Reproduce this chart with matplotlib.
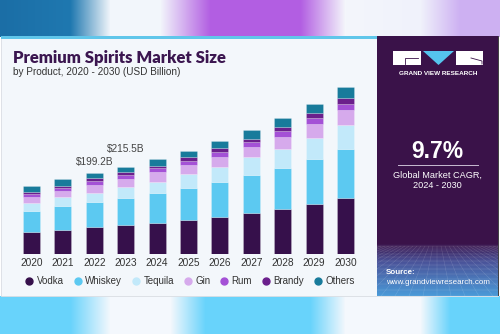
import numpy as np
import matplotlib
matplotlib.use("Agg")
import matplotlib.pyplot as plt
from matplotlib.patches import Rectangle, Polygon
from matplotlib.lines import Line2D
from matplotlib.colors import to_rgb

years = ["2020", "2021", "2022", "2023", "2024", "2025", "2026", "2027", "2028", "2029", "2030"]
products = ["Vodka", "Whiskey", "Tequila", "Gin", "Rum", "Brandy", "Others"]
vodka   = [54.3, 59.3, 66.7, 71.6, 76.6, 84.0, 91.4, 101.3, 111.2, 123.5, 138.3]
whiskey = [51.9, 59.3, 61.8, 66.7, 74.1, 79.0, 86.5, 93.9, 101.3, 111.2, 121.0]
tequila = [19.8, 22.2, 22.2, 27.2, 27.2, 34.6, 37.1, 44.5, 46.9, 51.9, 59.3]
gin     = [14.8, 14.8, 19.8, 19.8, 24.7, 22.2, 24.7, 24.7, 29.6, 34.6, 37.1]
rum     = [7.4, 7.4, 8.6, 9.9, 9.9, 9.9, 12.4, 12.4, 14.8, 13.6, 14.8]
brandy  = [4.9, 4.9, 7.4, 7.4, 4.9, 9.9, 9.9, 7.4, 9.9, 13.6, 14.8]
others  = [14.8, 17.3, 12.7, 12.4, 17.3, 14.8, 17.3, 22.2, 22.2, 22.2, 27.2]
series = [vodka, whiskey, tequila, gin, rum, brandy, others]
colors = ["#36104b", "#5cc9f1", "#c2e9fa", "#d6aaec", "#a451d6", "#6b1f8c", "#187b9b"]
annotations = {"2022": "$199.2B", "2023": "$215.5B"}
annot_offsets = {"2022": 4.5, "2023": 9.5}

W, H = 500, 334
fig = plt.figure(figsize=(5, 3.34), dpi=100)

# ---- background decoration (pixel coords) ----
bg = fig.add_axes([0, 0, 1, 1])
bg.set_xlim(0, W); bg.set_ylim(H, 0); bg.axis("off")

def band(stops, y0, y1):
    xs = np.arange(W)
    px = np.array([s[0] for s in stops])
    cols = np.array([to_rgb(s[1]) for s in stops])
    img = np.stack([np.interp(xs, px, cols[:, i]) for i in range(3)], axis=-1)
    img = np.repeat(img[None, :, :], 2, axis=0)
    bg.imshow(img, extent=[0, W, y1, y0], aspect="auto", zorder=0)

band([(0, "#1b6ea6"), (70, "#1f78b0"), (110, "#f2f6fb"), (160, "#f2f6fb"),
      (210, "#b25ee2"), (300, "#b25ee2"), (345, "#f4f6fb"), (420, "#f0f2fb"),
      (460, "#cdb0f2"), (500, "#cdb0f2")], 0, 37)
band([(0, "#68d3fb"), (70, "#68d3fb"), (110, "#f4f8fd"), (170, "#f4f8fd"),
      (205, "#68d3fb"), (310, "#68d3fb"), (345, "#f4f8fd"), (420, "#f4f8fd"),
      (450, "#68d3fb"), (500, "#68d3fb")], 296, 334)

bg.add_patch(Rectangle((1, 37), 497, 259, facecolor="#f3f7fb", edgecolor="#d9dde3", lw=0.6, zorder=1))
bg.add_patch(Rectangle((1, 36), 377, 2.5, facecolor="#60c6ea", lw=0, zorder=2))
bg.add_patch(Rectangle((377, 36), 121, 260, facecolor="#3a1249", lw=0, zorder=2))
# lower gradient of the side panel
t = np.linspace(0, 1, 80)
stops_t = [0, 0.35, 1]
stops_c = np.array([to_rgb("#3a1249"), to_rgb("#4a5399"), to_rgb("#4a9ad8")])
gimg = np.stack([np.interp(t, stops_t, stops_c[:, i]) for i in range(3)], axis=-1)[:, None, :]
gimg = np.repeat(gimg, 2, axis=1)
bg.imshow(gimg, extent=[377, 498, 296, 243], aspect="auto", zorder=3)
# perspective grid
hy = 246
for k in range(14):
    yy = hy + (296 - hy) * (k / 13) ** 1.6
    bg.plot([377, 498], [yy, yy], color="white", lw=0.3, alpha=0.22, zorder=4)
vx = 437
for k in range(-20, 21):
    xb = vx + k * 14
    bg.plot([vx + k * 4, xb], [hy, 296], color="white", lw=0.3, alpha=0.2, zorder=4)
bg.set_xlim(0, W); bg.set_ylim(H, 0)
bg.add_patch(Rectangle((498, 36), 1.2, 260, facecolor="#444444", lw=0, zorder=5))

# logo
bg.add_patch(Rectangle((393, 51), 28, 14, facecolor="white", lw=0, zorder=5))
bg.add_patch(Polygon([(423, 51), (454, 51), (438.5, 65)], closed=True, facecolor="#55c4ee", lw=0, zorder=5))
bg.add_patch(Rectangle((456, 51), 27, 14, facecolor="white", lw=0, zorder=5))
bg.plot([405, 405, 418], [64, 58, 58], color="#3a1249", lw=0.6, zorder=6)
bg.plot([471, 482, 482], [58, 61, 64], color="#3a1249", lw=0.6, zorder=6)
bg.text(438, 73.5, "GRAND VIEW RESEARCH", color="white", fontsize=4.6, ha="center", va="center",
        family="Liberation Sans", weight="bold", zorder=6)

bg.text(437, 151, "9.7%", color="white", fontsize=16.5, ha="center", va="center",
        family="Liberation Sans", weight="bold", zorder=6)
bg.plot([398, 478], [165, 165], color="#c9bcd3", lw=0.7, zorder=6)
bg.text(437, 175, "Global Market CAGR,", color="white", fontsize=6.6, ha="center", va="center",
        family="Liberation Sans", zorder=6)
bg.text(437, 186, "2024 - 2030", color="white", fontsize=6.6, ha="center", va="center",
        family="Liberation Sans", zorder=6)
bg.text(386, 272, "Source:", color="white", fontsize=5.8, ha="left", va="center",
        family="Liberation Sans", weight="bold", zorder=6)
bg.text(386, 282, "www.grandviewresearch.com", color="white", fontsize=5.8, ha="left", va="center",
        family="Liberation Sans", zorder=6)

bg.text(13, 58, "Premium Spirits Market Size", color="#3b1650", fontsize=12.0, ha="left", va="center",
        family="Lato", weight="heavy", zorder=6)
bg.text(13, 72, "by Product, 2020 - 2030 (USD Billion)", color="#333333", fontsize=7.2, ha="left",
        va="center", family="Liberation Sans", zorder=6)

# ---- chart axes ----
left_px, right_px, bot_px, top_px = 15.8, 361.2, 254, 80
ax = fig.add_axes([left_px / W, 1 - bot_px / H, (right_px - left_px) / W, (bot_px - top_px) / H])
ax.patch.set_alpha(0)
x = np.arange(len(years))
bottom = np.zeros(len(years))
for vals, col, name in zip(series, colors, products):
    ax.bar(x, vals, 0.54, bottom=bottom, color=col, edgecolor=(1, 1, 1, 0.35), linewidth=0.4, label=name)
    bottom += np.array(vals)
totals = bottom
ax.set_xlim(-0.5, len(years) - 0.5)
ax.set_ylim(0, (bot_px - top_px) * 2.47)
for yr, txt in annotations.items():
    i = years.index(yr)
    ax.annotate(txt, (i, totals[i]), xytext=(0, annot_offsets[yr]), textcoords="offset points",
                ha="center", va="bottom", fontsize=7.3, color="#444444", family="Liberation Sans")
ax.set_xticks(x)
ax.set_xticklabels(years, fontsize=7.3, color="#333333", family="Liberation Sans")
ax.tick_params(axis="x", length=0, pad=3)
ax.set_yticks([])
for s in ax.spines.values():
    s.set_visible(False)

handles = [Line2D([], [], marker="o", linestyle="", markersize=5, markerfacecolor=c, markeredgecolor=c)
           for c in colors]
fig.legend(handles, products, loc="center", bbox_to_anchor=(190 / W, 1 - 281 / H), ncol=7, frameon=False,
           prop={"family": "Liberation Sans", "size": 7.0}, handletextpad=0.3, columnspacing=1.0,
           handlelength=0.9, labelcolor="#333333")

fig.savefig("out.png", dpi=100)
